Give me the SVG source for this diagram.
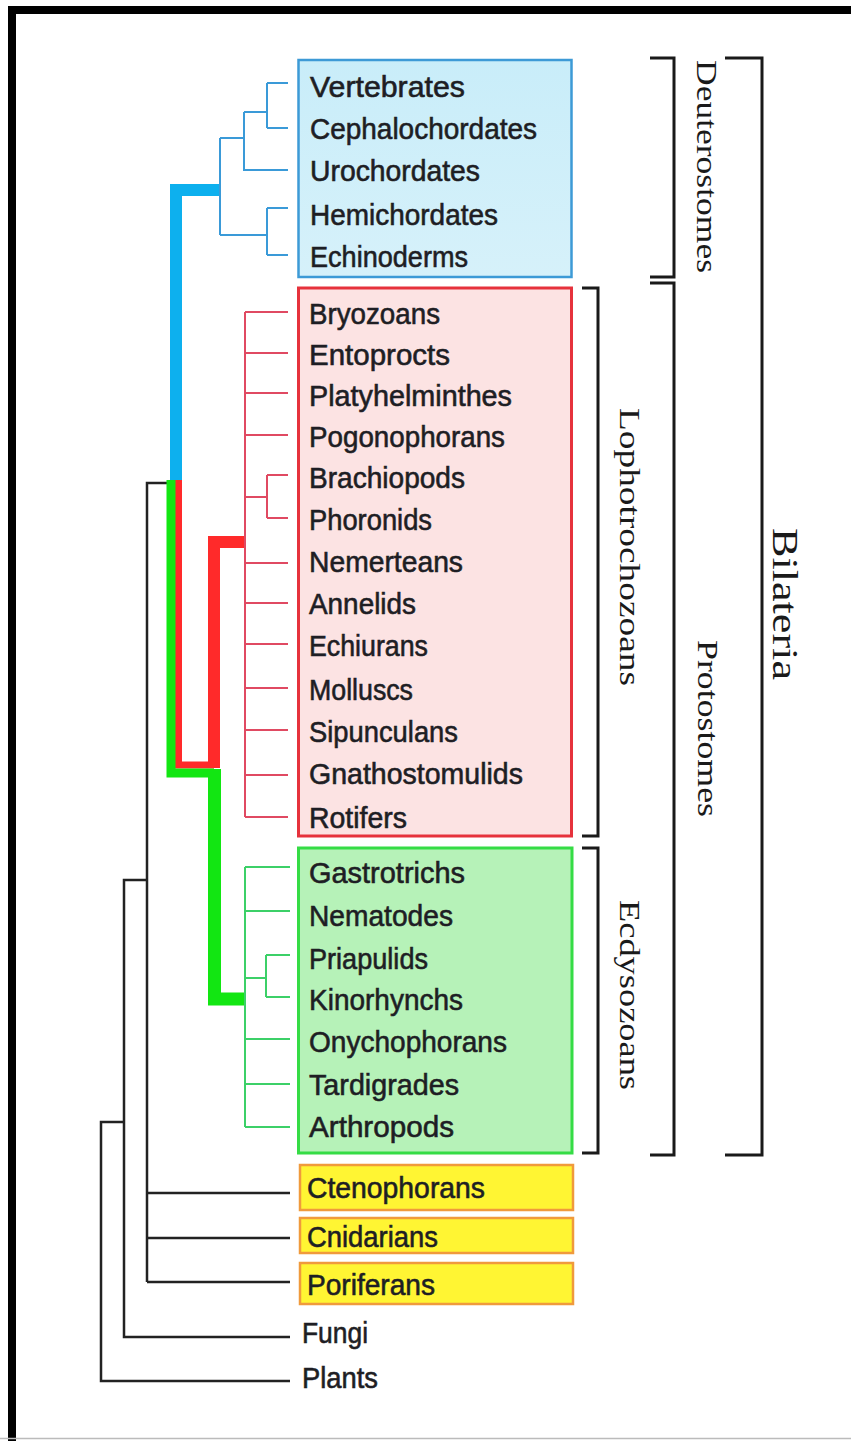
<svg xmlns="http://www.w3.org/2000/svg" width="851" height="1441" viewBox="0 0 851 1441">
<style>
.lbl{font-family:"Liberation Sans",Arial,sans-serif;font-size:30px;fill:#1e1e24;stroke:#1e1e24;stroke-width:0.6}
.grp{font-family:"Liberation Serif","Times New Roman",serif;font-size:29px;fill:#1a1a1a}
.blk{fill:none;stroke:#222;stroke-width:2.5}
.brk{fill:none;stroke:#1a1a1a;stroke-width:3}
.bt{fill:none;stroke:#3a9ad8;stroke-width:2}
.rt{fill:none;stroke:#e04a62;stroke-width:2}
.gt{fill:none;stroke:#3cd068;stroke-width:2}
</style>
<defs>
<linearGradient id="bg1" x1="0" y1="0" x2="0" y2="1">
<stop offset="0" stop-color="#c9edf9"/><stop offset="1" stop-color="#d6f1fa"/>
</linearGradient>
</defs>
<rect x="0" y="0" width="851" height="1441" fill="#fff"/>
<g id="frame">
<path d="M12,1441 V10 H851" fill="none" stroke="#000" stroke-width="8"/>
<line x1="0" y1="1438.5" x2="851" y2="1438.5" stroke="#bbb" stroke-width="1.5"/>
</g>

<g id="connectors">
<path class="blk" d="M170,483 H147 V1282"/>
<path class="blk" d="M147,1193 H290 M147,1238 H290 M147,1282 H290"/>
<path class="blk" d="M147,880 H124 V1337 H290"/>
<path class="blk" d="M124,1122 H101 V1381 H290"/>
<path d="M176,484 V190 H220" fill="none" stroke="#0db0ee" stroke-width="12" stroke-linejoin="miter"/>
<path d="M178.5,480 V765 H214" fill="none" stroke="#ff2a2a" stroke-width="7"/>
<path d="M214,768 V542 H245" fill="none" stroke="#ff2a2a" stroke-width="12"/>
<path d="M171,480 V773 H214" fill="none" stroke="#12e612" stroke-width="9"/>
<path d="M214.5,769 V999 H245" fill="none" stroke="#12e612" stroke-width="13"/>
<path class="bt" d="M220,138 V235 M220,138 H244 M244,112 V170 H288 M244,112 H267 M267,83 V128 M267,83 H288 M267,128 H288 M220,235 H267 M267,208 V255 M267,208 H288 M267,255 H288"/>
<path class="rt" d="M245,312 V817 M245,312 H288 M245,353 H288 M245,393 H288 M245,435 H288 M245,497 H267 M267,475 V518 M267,475 H288 M267,518 H288 M245,563 H288 M245,603 H288 M245,644 H288 M245,688 H288 M245,730 H288 M245,775 H288 M245,817 H288"/>
<path class="gt" d="M245,867 V1127 M245,867 H290 M245,911 H290 M245,978 H266 M266,955 V997 M266,955 H290 M266,997 H290 M245,1039 H290 M245,1084 H290 M245,1127 H290"/>
</g>

<g id="deuterostomes-box">
<rect x="298.5" y="60" width="273" height="217" fill="url(#bg1)" stroke="#3d9ad6" stroke-width="2.5"/>
<text class="lbl" x="310" y="97" textLength="155" lengthAdjust="spacingAndGlyphs">Vertebrates</text>
<text class="lbl" x="310" y="139" textLength="227" lengthAdjust="spacingAndGlyphs">Cephalochordates</text>
<text class="lbl" x="310" y="181" textLength="170" lengthAdjust="spacingAndGlyphs">Urochordates</text>
<text class="lbl" x="310" y="225" textLength="188" lengthAdjust="spacingAndGlyphs">Hemichordates</text>
<text class="lbl" x="310" y="267" textLength="158" lengthAdjust="spacingAndGlyphs">Echinoderms</text>
</g>

<g id="lophotrochozoans-box">
<rect x="298.5" y="288" width="273" height="548" fill="#fce3e3" stroke="#e6323c" stroke-width="3"/>
<text class="lbl" x="309" y="324" textLength="131" lengthAdjust="spacingAndGlyphs">Bryozoans</text>
<text class="lbl" x="309" y="365" textLength="141" lengthAdjust="spacingAndGlyphs">Entoprocts</text>
<text class="lbl" x="309" y="406" textLength="203" lengthAdjust="spacingAndGlyphs">Platyhelminthes</text>
<text class="lbl" x="309" y="447" textLength="196" lengthAdjust="spacingAndGlyphs">Pogonophorans</text>
<text class="lbl" x="309" y="488" textLength="156" lengthAdjust="spacingAndGlyphs">Brachiopods</text>
<text class="lbl" x="309" y="530" textLength="123" lengthAdjust="spacingAndGlyphs">Phoronids</text>
<text class="lbl" x="309" y="572" textLength="154" lengthAdjust="spacingAndGlyphs">Nemerteans</text>
<text class="lbl" x="309" y="614" textLength="107" lengthAdjust="spacingAndGlyphs">Annelids</text>
<text class="lbl" x="309" y="656" textLength="119" lengthAdjust="spacingAndGlyphs">Echiurans</text>
<text class="lbl" x="309" y="700" textLength="104" lengthAdjust="spacingAndGlyphs">Molluscs</text>
<text class="lbl" x="309" y="742" textLength="149" lengthAdjust="spacingAndGlyphs">Sipunculans</text>
<text class="lbl" x="309" y="784" textLength="214" lengthAdjust="spacingAndGlyphs">Gnathostomulids</text>
<text class="lbl" x="309" y="828" textLength="98" lengthAdjust="spacingAndGlyphs">Rotifers</text>
</g>

<g id="ecdysozoans-box">
<rect x="298.5" y="848" width="273.5" height="305" fill="#b6f2b8" stroke="#35dc45" stroke-width="3"/>
<text class="lbl" x="309" y="883" textLength="156" lengthAdjust="spacingAndGlyphs">Gastrotrichs</text>
<text class="lbl" x="309" y="926" textLength="144" lengthAdjust="spacingAndGlyphs">Nematodes</text>
<text class="lbl" x="309" y="969" textLength="119" lengthAdjust="spacingAndGlyphs">Priapulids</text>
<text class="lbl" x="309" y="1010" textLength="154" lengthAdjust="spacingAndGlyphs">Kinorhynchs</text>
<text class="lbl" x="309" y="1052" textLength="198" lengthAdjust="spacingAndGlyphs">Onychophorans</text>
<text class="lbl" x="309" y="1095" textLength="150" lengthAdjust="spacingAndGlyphs">Tardigrades</text>
<text class="lbl" x="309" y="1137" textLength="145" lengthAdjust="spacingAndGlyphs">Arthropods</text>
</g>

<g id="ctenophorans">
<rect x="300" y="1165" width="273" height="45" fill="#fff533" stroke="#f09a3c" stroke-width="2.5"/>
<text class="lbl" x="307" y="1198" textLength="178" lengthAdjust="spacingAndGlyphs">Ctenophorans</text>
</g>
<g id="cnidarians">
<rect x="300" y="1218" width="273" height="35" fill="#fff533" stroke="#f09a3c" stroke-width="2.5"/>
<text class="lbl" x="307" y="1247" textLength="131" lengthAdjust="spacingAndGlyphs">Cnidarians</text>
</g>
<g id="poriferans">
<rect x="300" y="1263" width="273" height="41" fill="#fff533" stroke="#f09a3c" stroke-width="2.5"/>
<text class="lbl" x="307" y="1295" textLength="128" lengthAdjust="spacingAndGlyphs">Poriferans</text>
</g>
<g id="fungi">
<text class="lbl" x="302" y="1343" textLength="66" lengthAdjust="spacingAndGlyphs">Fungi</text>
</g>
<g id="plants">
<text class="lbl" x="302" y="1388" textLength="76" lengthAdjust="spacingAndGlyphs">Plants</text>
</g>

<g id="brackets">
<path class="brk" d="M650,58 H674 V277 H650"/>
<path class="brk" d="M650,283 H674 V1155 H650"/>
<path class="brk" d="M582,288 H598 V836 H582"/>
<path class="brk" d="M582,848 H598 V1153 H582"/>
<path class="brk" d="M725,58 H762 V1155 H725"/>
</g>
<g id="deuterostomes-label"><text class="grp" transform="translate(697,60) rotate(90)" textLength="213" lengthAdjust="spacingAndGlyphs">Deuterostomes</text></g>
<g id="lophotrochozoans-label"><text class="grp" transform="translate(620,408) rotate(90)" textLength="278" lengthAdjust="spacingAndGlyphs">Lophotrochozoans</text></g>
<g id="protostomes-label"><text class="grp" transform="translate(698,640) rotate(90)" textLength="177" lengthAdjust="spacingAndGlyphs">Protostomes</text></g>
<g id="ecdysozoans-label"><text class="grp" transform="translate(620,900) rotate(90)" textLength="190" lengthAdjust="spacingAndGlyphs">Ecdysozoans</text></g>
<g id="bilateria-label"><text class="grp" style="font-size:35px" transform="translate(773,528) rotate(90)" textLength="152" lengthAdjust="spacingAndGlyphs">Bilateria</text></g>
</svg>
